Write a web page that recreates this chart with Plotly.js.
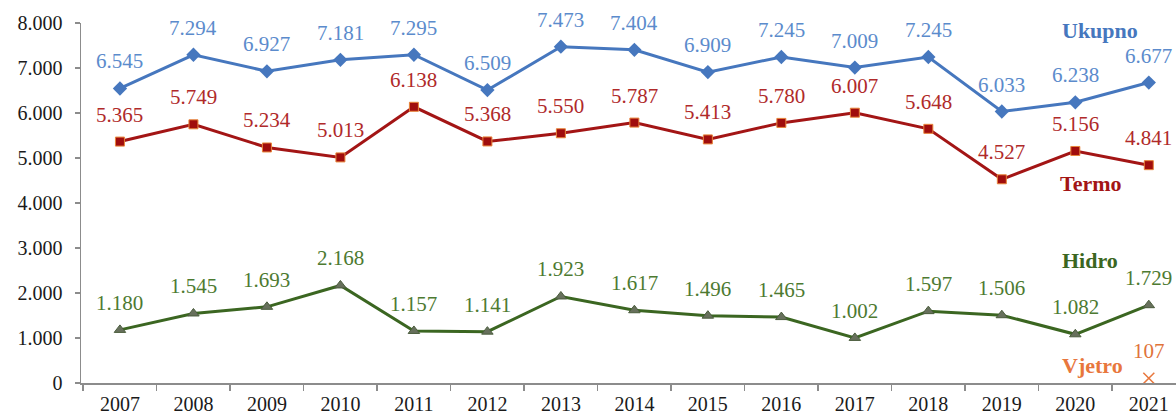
<!DOCTYPE html>
<html>
<head>
<meta charset="utf-8">
<script src="https://cdn.plot.ly/plotly-3.0.1.min.js"></script>
<style>
html,body{margin:0;padding:0;background:#fff;}
#chart{width:1176px;height:419px;}
</style>
</head>
<body>
<div id="chart"></div>
<script>
const years = ["2007","2008","2009","2010","2011","2012","2013","2014","2015","2016","2017","2018","2019","2020","2021"];
const ukupno = [6545,7294,6927,7181,7295,6509,7473,7404,6909,7245,7009,7245,6033,6238,6677];
const termo  = [5365,5749,5234,5013,6138,5368,5550,5787,5413,5780,6007,5648,4527,5156,4841];
const hidro  = [1180,1545,1693,2168,1157,1141,1923,1617,1496,1465,1002,1597,1506,1082,1729];
const vjetro = [null,null,null,null,null,null,null,null,null,null,null,null,null,null,107];
const yTicks = [0,1000,2000,3000,4000,5000,6000,7000,8000];

const FONT = "'Liberation Serif','Times New Roman',serif";
const C = {
  uk: {line:'#4677be', label:'#5b8bcc'},
  te: {line:'#a31515', label:'#b02a2a'},
  hi: {line:'#3b6621', label:'#4d7a31'},
  vj: {line:'#e8773d', label:'#e0733a'}
};

function fmt(v){
  return String(v).replace(/\B(?=(\d{3})+(?!\d))/g, '.');
}

const traces = [
  {x:years, y:ukupno, mode:'lines+markers', name:'Ukupno',
   line:{color:C.uk.line, width:3},
   marker:{symbol:'diamond', size:11, color:C.uk.line}},
  {x:years, y:termo, mode:'lines+markers', name:'Termo',
   line:{color:C.te.line, width:3},
   marker:{symbol:'square', size:9, color:'#a00d0d', line:{color:'#e8843a', width:1}}},
  {x:years, y:hidro, mode:'lines+markers', name:'Hidro',
   line:{color:C.hi.line, width:3},
   marker:{symbol:'triangle-up', size:10, color:'#67705c', line:{color:'#4a5c3c', width:1}}},
  {x:years, y:vjetro, mode:'markers', name:'Vjetro',
   marker:{symbol:'x-thin-open', size:11, color:C.vj.line, line:{color:C.vj.line, width:1.5}}}
];

const annotations = [];
function addLabels(vals, color){
  vals.forEach((v,i)=>{
    if(v===null) return;
    annotations.push({x:i, y:v, xref:'x', yref:'y', text:fmt(v), showarrow:false,
      yshift:27, font:{family:FONT, size:21, color:color}});
  });
}
addLabels(ukupno, C.uk.label);
addLabels(termo, C.te.label);
addLabels(hidro, C.hi.label);
addLabels(vjetro, C.vj.label);

const names = [
  {text:'Ukupno', x:13.33, y:7840, color:C.uk.line},
  {text:'Termo', x:13.22, y:4440, color:C.te.line},
  {text:'Hidro', x:13.2, y:2730, color:C.hi.line},
  {text:'Vjetro', x:13.24, y:400, color:C.vj.line}
];
names.forEach(n=>{
  annotations.push({x:n.x, y:n.y, xref:'x', yref:'y', text:'<b>'+n.text+'</b>', showarrow:false,
    font:{family:FONT, size:22, color:n.color}});
});

const layout = {
  width:1176, height:419,
  margin:{l:81, r:0, t:23, b:36},
  paper_bgcolor:'#fff', plot_bgcolor:'#fff',
  showlegend:false,
  separators:',.',
  font:{family:FONT, color:'#222'},
  xaxis:{type:'category', range:[-0.53,14.37], showgrid:false, zeroline:false,
    showline:true, linecolor:'#8c8c8c', linewidth:1.5,
    ticks:'outside', tickson:'boundaries', ticklen:6, tickcolor:'#8c8c8c', tickwidth:1.5,
    tickfont:{family:FONT, size:20, color:'#1a1a1a'}, ticklabelstandoff:2},
  yaxis:{range:[0,8000], tickvals:yTicks, tickformat:',d', showgrid:false, zeroline:false,
    showline:true, linecolor:'#8c8c8c', linewidth:1.5,
    ticks:'outside', ticklen:5, tickcolor:'#8c8c8c', tickwidth:1.5,
    tickfont:{family:FONT, size:20, color:'#1a1a1a'}, ticklabelstandoff:8},
  annotations:annotations
};

Plotly.newPlot('chart', traces, layout, {displayModeBar:false, staticPlot:true});
</script>
</body>
</html>
